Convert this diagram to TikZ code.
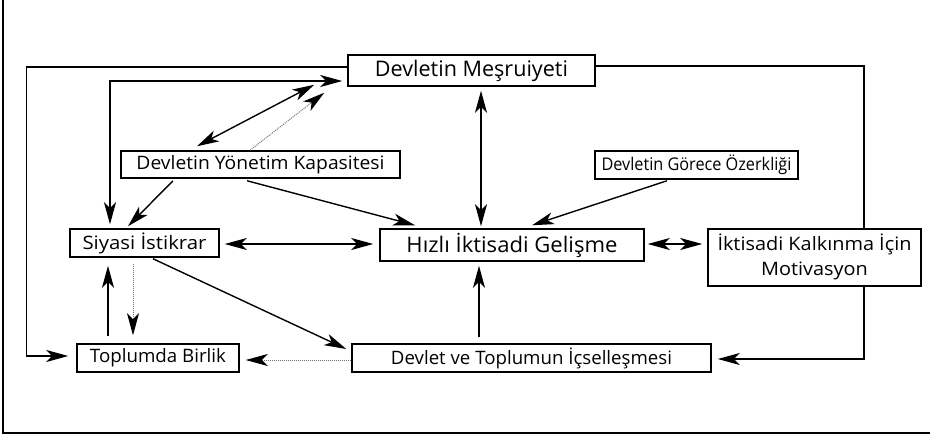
\documentclass[tikz,border=0pt]{standalone}
\usepackage{fontspec}
\usepackage{graphicx}
\setmainfont{Open Sans}
\usetikzlibrary{arrows.meta,calc}
\newcommand{\fitw}[2]{\resizebox{#1pt}{\height}{#2}}
\begin{document}
\begin{tikzpicture}[x=1pt,y=-1pt,
  box/.style={draw, line width=1.5pt, inner sep=0pt, align=center, font=\fontsize{18.5}{25}\selectfont},
  midbox/.style={box, font=\fontsize{17.5}{22}\selectfont},
  bigbox/.style={box, font=\fontsize{21.5}{25}\selectfont},
  tip/.tip={Stealth[length=22pt,width=12pt,inset=6pt]},
  conn/.style={line width=1.4pt, -tip},
  dbl/.style={line width=1.4pt, tip-tip},
  plain/.style={line width=1.4pt},
  dots/.style={line width=1pt, densely dotted, draw=black!55, -{Stealth[length=22pt,width=12pt,inset=6pt,fill=black,color=black]}}
]
\useasboundingbox (0,0) rectangle (930,437);
% outer frame
\draw[line width=1.8pt] (3,0) -- (3,433) -- (930,433);
% nodes
\node[bigbox, minimum width=247pt, minimum height=31pt] (mes) at (471.5,70.5) {\fitw{193}{Devletin Meşruiyeti}};
\node[box, minimum width=279pt, minimum height=27pt] (yon) at (260.5,164.5) {\fitw{248}{Devletin Yönetim Kapasitesi}};
\node[midbox, minimum width=203pt, minimum height=28pt] (gor) at (696.5,165) {\fitw{190}{Devletin Görece Özerkliği}};
\node[box, minimum width=149pt, minimum height=28pt] (siy) at (144.5,243) {\fitw{124}{Siyasi İstikrar}};
\node[bigbox, minimum width=264pt, minimum height=32pt] (hiz) at (512,245) {\fitw{211}{Hızlı İktisadi Gelişme}};
\node[box, minimum width=213pt, minimum height=57pt] (mot) at (814.5,257.5) {\fitw{194}{\begin{tabular}{@{}c@{}}İktisadi Kalkınma İçin\\Motivasyon\end{tabular}}};
\node[box, minimum width=162pt, minimum height=28pt] (top) at (158,358) {\fitw{136}{Toplumda Birlik}};
\node[box, minimum width=359pt, minimum height=28pt] (dev) at (531.5,358) {\fitw{281}{Devlet ve Toplumun İçselleşmesi}};
% connectors
\draw[conn] ($(mes.west)+(0,-3.5)$) -- ++(-321,0) |- ($(top.west)+(-8,-2)$);
\draw[dbl] ($(siy.north)+(-34.5,-4)$) |- ($(mes.west)+(-5,10.5)$);
\draw[dbl] ($(yon.north)+(-63.5,-4)$) -- ($(mes.south west)+(-33,-2)$);
\draw[dots] ($(yon.north)+(-10.5,0)$) -- ($(mes.south west)+(-23,6)$);
\draw[conn] ($(yon.south)+(-87.5,2)$) -- ($(siy.north)+(-16.5,-2)$);
\draw[conn] ($(yon.south)+(-13.5,2)$) -- ($(hiz.north)+(-97,-3)$);
\draw[dbl] ($(mes.south)+(9.5,4)$) -- ($(hiz.north)+(-31,-2)$);
\draw[conn] ($(gor.south)+(-29.5,1)$) -- ($(hiz.north)+(20,-3)$);
\draw[dbl] ($(siy.east)+(5,1)$) -- ($(hiz.west)+(-6,-1)$);
\draw[dbl] ($(hiz.east)+(3,-1)$) -- ($(mot.west)+(-5,-13.5)$);
\draw[plain] ($(mes.east)+(0,-4.5)$) -| ($(mot.north)+(49.5,0)$);
\draw[conn] ($(mot.south)+(49.5,0)$) |- ($(dev.east)+(6,1)$);
\draw[conn] ($(top.north)+(-50,-7)$) -- ($(siy.south)+(-36.5,8)$);
\draw[dots] ($(siy.south)+(-11.5,6)$) -- ($(top.north)+(-25,-8)$);
\draw[conn] ($(siy.south)+(8.5,1)$) -- ($(dev.west)+(-5,-9)$);
\draw[dots] ($(dev.west)+(0,2)$) -- ($(top.east)+(6,2)$);
\draw[conn] ($(dev.north)+(-52.5,-6)$) -- ($(hiz.south)+(-33,4)$);
\end{tikzpicture}
\end{document}
